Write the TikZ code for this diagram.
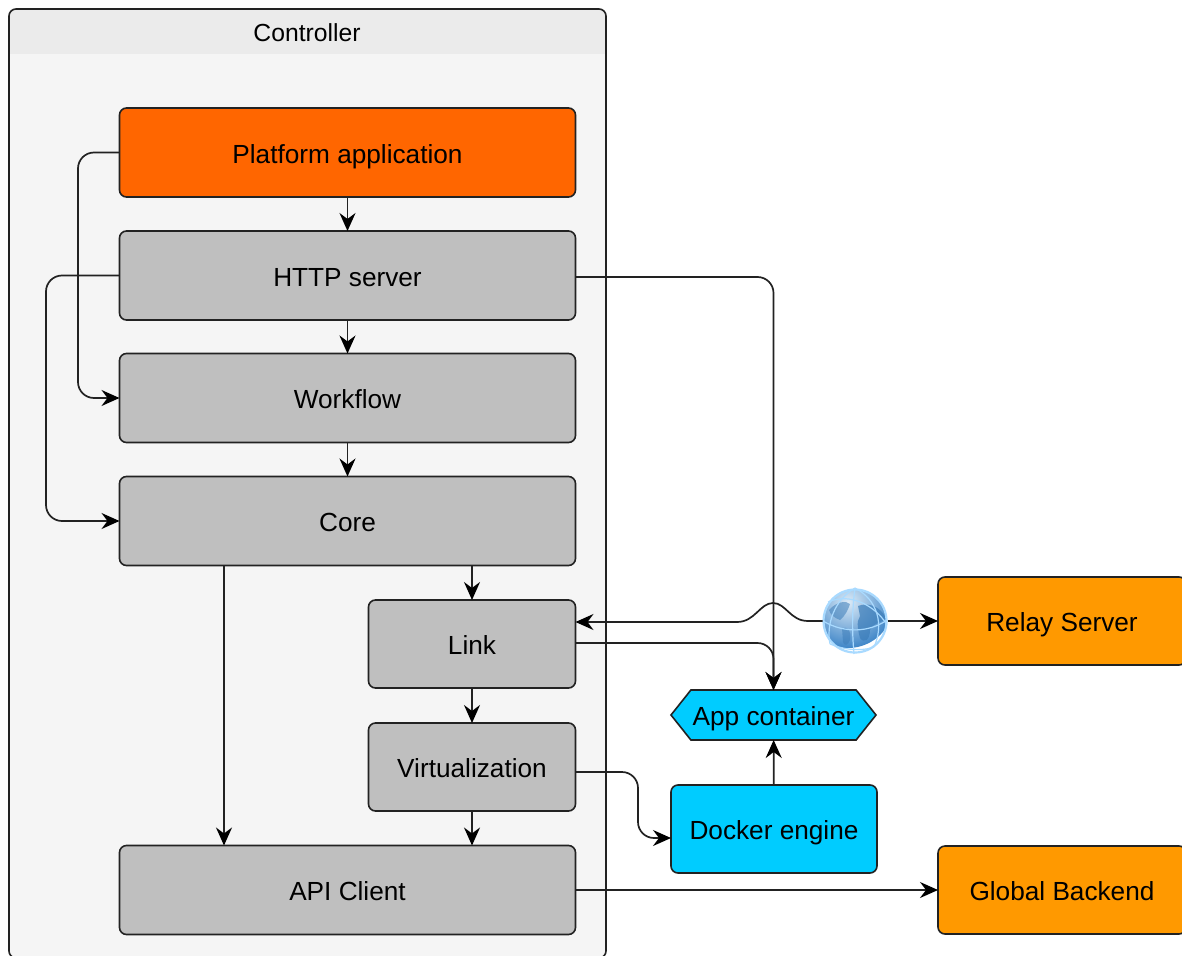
\documentclass[tikz,border=0pt]{standalone}
\usepackage{fontspec}
\setmainfont{Liberation Sans}
\usetikzlibrary{arrows.meta,shapes.symbols,calc}
\definecolor{orangeA}{HTML}{FF6600}
\definecolor{orangeB}{HTML}{FF9900}
\definecolor{greyBox}{HTML}{BFBFBF}
\definecolor{cyanBox}{HTML}{00CCFF}
\definecolor{linecol}{HTML}{222222}
\definecolor{globeLight}{HTML}{DCEAF6}
\definecolor{globeDark}{HTML}{3F86C8}
\definecolor{globeLand}{HTML}{3C7DB9}
\definecolor{globeGrid}{HTML}{A9DAFF}
\tikzset{
  x=1pt,y=-1pt,
  txt/.style={font=\fontsize{26.2}{30}\selectfont,text=black,text height=21pt,text depth=0pt},
  box/.style={draw=linecol,line width=1.6pt,rounded corners=7pt,outer sep=0pt,inner sep=0pt,align=center,txt},
  greybox/.style={box,fill=greyBox},
  wide/.style={minimum width=456pt,minimum height=89pt},
  narrow/.style={minimum width=207pt,minimum height=88pt},
  ext/.style={box,fill=orangeB,minimum width=248pt,minimum height=88pt},
  blue/.style={box,fill=cyanBox,minimum width=206pt,minimum height=88pt},
  hexa/.style={draw=linecol,line width=1.6pt,fill=cyanBox,outer sep=0pt,inner sep=0pt,
    shape=signal,signal to=west and east,signal pointer angle=103,
    minimum width=205pt,minimum height=50pt,txt},
  conn/.style={draw=linecol,line width=1.7pt,rounded corners=16pt},
  arrow/.style={conn,-{Stealth[length=18pt,width=16pt,inset=6pt,color=black]}},
  barrow/.style={conn,{Stealth[length=18pt,width=16pt,inset=6pt,color=black]}-},
}
\begin{document}
\begin{tikzpicture}
\useasboundingbox (0,0) rectangle (1182,955);
\clip (0,0) rectangle (1182,955);
% controller container
\path[fill=black!4,rounded corners=7pt] (9,9) rectangle (606,958);
\path[fill=black!8] (9,54) [rounded corners=7pt] -- (9,9) -- (606,9) [sharp corners] -- (606,54) -- cycle;
\draw[draw=linecol,line width=1.6pt,rounded corners=7pt] (9,9) rectangle (606,958);
\node[font=\fontsize{24.7}{28}\selectfont,text=black] (title) at (307,32.5) {Controller};
% nodes
\node[box,wide,fill=orangeA] (platform) at (347.5,152.5) {Platform application};
\node[greybox,wide] (http) at (347.5,275.5) {HTTP server};
\node[greybox,wide] (workflow) at (347.5,398) {Workflow};
\node[greybox,wide] (core) at (347.5,521) {Core};
\node[greybox,narrow] (link) at (472,644) {Link};
\node[greybox,narrow] (virt) at (472,767) {Virtualization};
\node[greybox,wide] (api) at (347.5,890) {API Client};
\node[hexa] (app) at (773.5,715) {App container};
\node[blue] (docker) at (774,829) {Docker engine};
\node[ext] (relay) at (1062,621) {Relay Server};
\node[ext] (global) at (1062,890) {Global Backend};
% globe
\node[circle,minimum size=65pt,inner sep=0pt,outer sep=0pt] (globe) at (855,621) {};
\begin{scope}
\clip (globe.center) circle (31.5pt);
\shade[inner color=globeLight,outer color=globeDark] (848,602) circle (46pt);
\fill[globeLand,opacity=.55] (829,610) .. controls (836,602) and (846,600) .. (850,604)
  .. controls (848,610) and (845,616) .. (840,620) .. controls (834,618) and (830,614) .. (829,610) -- cycle;
\fill[globeLand,opacity=.55] (842,628) .. controls (848,626) and (852,632) .. (850,640) .. controls (848,646) and (844,646) .. (843,642) -- cycle;
\fill[globeLand,opacity=.7] (858,606) .. controls (868,602) and (880,606) .. (886,618)
  .. controls (880,624) and (874,622) .. (870,630) .. controls (870,640) and (864,644) .. (860,638)
  .. controls (858,630) and (856,622) .. (860,616) -- cycle;
\end{scope}
\begin{scope}[globeGrid,line width=1.2pt]
\draw[line width=2.2pt] (globe.center) circle (31.5pt);
\draw (855,588) .. controls (852,610) and (852,632) .. (854,654);
\draw (823,621) .. controls (845,634) and (870,632) .. (887,620);
\draw (855,588) .. controls (834,600) and (826,625) .. (830,644);
\draw (855,588) .. controls (878,600) and (884,625) .. (874,647);
\draw (828,602) .. controls (850,592) and (876,606) .. (887,625);
\draw (830,644) .. controls (850,652) and (866,650) .. (874,647);
\end{scope}
% free ends of the bump
\coordinate (bumpL) at (737,622);
\coordinate (bumpT) at (773,603);
\coordinate (bumpR) at (808,621);
% connectors
\draw[arrow] (platform) -- (http);
\draw[arrow] (http) -- (workflow);
\draw[arrow] (workflow) -- (core);
\draw[arrow] (link) -- (virt);
\draw[arrow] (core.south -| link) -- (link);
\draw[arrow] (virt) -- (api.north -| virt);
\draw[arrow] (core.south -| 224,0) -- (api.north -| 224,0);
\draw[arrow] (platform.west) -- (78,152.5) -- (78,398) -- (workflow.west);
\draw[arrow] (http.west) -- (46,275.5) -- (46,521) -- (core.west);
\draw[arrow] (http.east |- 0,277) -- (773.5,277) -- (app.north);
\draw[arrow] (link.east |- 0,643) -- (773.5,643) -- (app.north);
\draw[arrow] (virt.east |- 0,772) -- (638,772) -- (638,838) -- (docker.west |- 0,838);
\draw[arrow] (docker) -- (app);
\draw[arrow] (api) -- (global);
\draw[barrow,rounded corners=0pt] (link.east |- bumpL) -- (bumpL)
  .. controls (755,622) and (760,603) .. (bumpT)
  .. controls (786,603) and (790,621) .. (bumpR) -- (globe.west);
\draw[arrow] (globe.east) -- (relay.west);
\end{tikzpicture}
\end{document}
